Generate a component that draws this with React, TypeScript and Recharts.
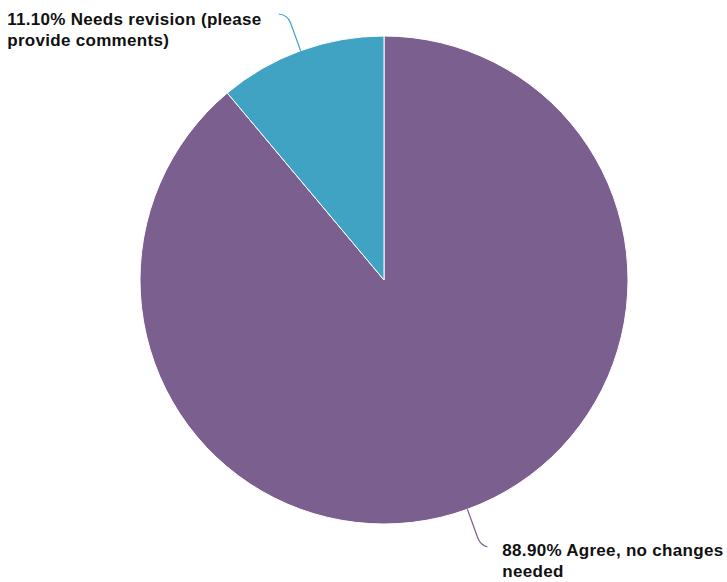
import React from 'react';
import { PieChart, Pie, Cell } from 'recharts';

const answers = ['Agree, no changes needed', 'Needs revision (please provide comments)'];
const shares = [88.9, 11.1];
const colors = ['#7B5F8F', '#40A3C3'];

const data = answers.map((name, i) => ({ name, value: shares[i] }));

const FONT = 'bold 17px "Liberation Sans", Arial, Helvetica, sans-serif';
const SPACING = 0.3;
const RAD = Math.PI / 180;

let ctx: CanvasRenderingContext2D | null = null;
const measure = (s: string) => {
    if (!ctx) ctx = document.createElement('canvas').getContext('2d');
    if (!ctx) return s.length * 9.3;
    ctx.font = FONT;
    return ctx.measureText(s).width + SPACING * s.length;
};

const wrap = (text: string, maxWidth: number) => {
    const words = text.split(' ');
    const lines: string[] = [];
    let cur = '';
    words.forEach((w) => {
        const next = cur ? `${cur} ${w}` : w;
        if (cur && measure(next) > maxWidth) {
            lines.push(cur);
            cur = w;
        } else {
            cur = next;
        }
    });
    if (cur) lines.push(cur);
    return lines;
};

const renderLabel = (props: any) => {
    const { cx, cy, midAngle, outerRadius, index, value, name } = props;
    const cos = Math.cos(-midAngle * RAD);
    const sin = Math.sin(-midAngle * RAD);
    const sx = cx + outerRadius * cos;
    const sy = cy + outerRadius * sin;
    const bx = cx + (outerRadius + 30) * cos;
    const by = cy + (outerRadius + 30) * sin;
    const mx = cx + (outerRadius + 38) * cos;
    const my = cy + (outerRadius + 38) * sin;
    const right = cos >= 0;
    const ex = mx + (right ? 7 : -9);
    const ey = my + (right ? 2 : -1);
    const lines = wrap(`${value.toFixed(2)}% ${name}`, 270);
    const widest = Math.max(...lines.map(measure));
    const tx = right ? ex + 15 : ex - 17 - widest;
    const color = colors[index % colors.length];
    return (
        <g>
            <path
                d={`M${sx},${sy} L${bx},${by} Q${mx},${my} ${ex},${ey}`}
                stroke={color}
                strokeWidth={1.2}
                fill="none"
            />
            <text
                x={tx}
                y={ey + (right ? 9 : 11)}
                fill="#111"
                style={{ font: FONT, letterSpacing: SPACING }}
                textAnchor="start"
            >
                {lines.map((l, i) => (
                    <tspan key={i} x={tx} dy={i === 0 ? 0 : 21}>
                        {l}
                    </tspan>
                ))}
            </text>
        </g>
    );
};

export default function App() {
    return (
        <div style={{ position: 'absolute', left: 0, top: 0, width: 727, height: 582, background: '#fff' }}>
            <PieChart width={727} height={582} margin={{ top: 0, right: 0, bottom: 0, left: 0 }}>
                <Pie
                    data={data}
                    dataKey="value"
                    nameKey="name"
                    cx={384}
                    cy={280}
                    outerRadius={244}
                    startAngle={90}
                    endAngle={-270}
                    stroke="#ffffff"
                    strokeWidth={1}
                    label={renderLabel}
                    labelLine={false}
                    isAnimationActive={false}
                >
                    {data.map((d, i) => (
                        <Cell key={d.name} fill={colors[i % colors.length]} />
                    ))}
                </Pie>
            </PieChart>
        </div>
    );
}
